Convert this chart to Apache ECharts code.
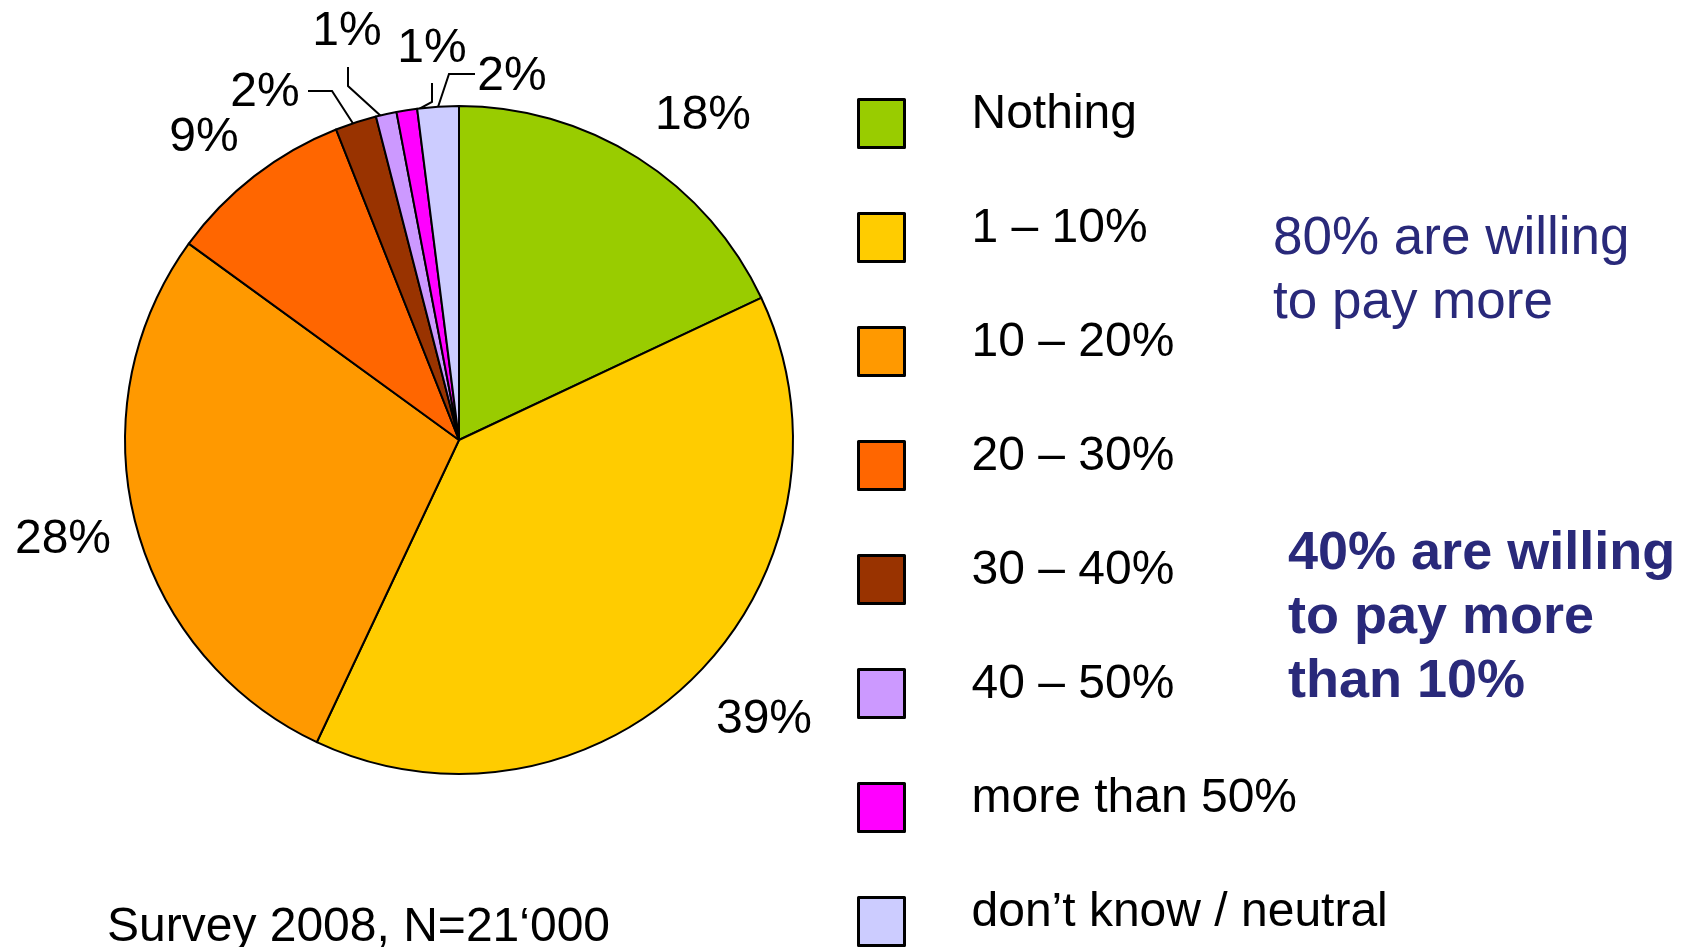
<!DOCTYPE html>
<html>
<head>
<meta charset="utf-8">
<script src="https://cdn.jsdelivr.net/npm/echarts@6/dist/echarts.min.js"></script>
<style>
  html, body { margin: 0; padding: 0; background: #fff; }
  #chart { width: 1681px; height: 947px; }
</style>
</head>
<body>
<div id="chart"></div>
<script>
// answers (share of respondents, %)
const categories = ['Nothing', '1 – 10%', '10 – 20%', '20 – 30%', '30 – 40%', '40 – 50%', 'more than 50%', 'don’t know / neutral'];
const shares = [18, 39, 28, 9, 2, 1, 1, 2];
const colors = ['#99CC00', '#FFCC00', '#FF9900', '#FF6600', '#993300', '#CC99FF', '#FF00FF', '#CCCCFF'];
const noteLight = '80% are willing\nto pay more';
const noteBold = '40% are willing\nto pay more\nthan 10%';
const footnote = 'Survey 2008, N=21‘000';

// where each percentage label sits (label centre) and its leader line, if any
const labelPos = [[703, 116], [764, 720], [63, 540], [204, 138], [265, 93], [347, 32], [432, 49], [512, 77]];
const leaders = {
    4: [[354, 125], [332, 91], [308, 91]],
    5: [[382, 117], [348, 86], [348, 67]],
    6: [[408, 115], [432, 102], [432, 83]],
    7: [[437, 110], [449, 74], [475, 74]]
};

const FONT = '"Liberation Sans", Arial, sans-serif';
const NAVY = '#29297a';
// legend box sits in the lower part of a taller item so the text rides above its centre
const legendIcon = 'path://M0 0L0 0M0 18L46 18L46 66L0 66Z';

const chart = echarts.init(document.getElementById('chart'), null, { renderer: 'canvas' });

chart.setOption({
    animation: false,
    backgroundColor: '#fff',
    color: colors,
    legend: {
        orient: 'vertical',
        left: 852,
        top: 75,
        height: 900,
        icon: legendIcon,
        itemWidth: 46,
        itemHeight: 66,
        itemGap: 45,
        selectedMode: false,
        itemStyle: { borderColor: '#000', borderWidth: 3 },
        textStyle: {
            fontFamily: FONT, fontSize: 48, color: '#000',
            padding: [0, 0, 0, 62]
        },
        data: categories
    },
    series: [{
        type: 'pie',
        center: [459, 440],
        radius: 334,
        startAngle: 90,
        clockwise: true,
        avoidLabelOverlap: false,
        itemStyle: { borderColor: '#000', borderWidth: 2 },
        label: {
            show: true,
            formatter: '{c}%',
            fontFamily: FONT, fontSize: 48, color: '#000'
        },
        labelLine: { show: false, smooth: false, lineStyle: { color: '#000', width: 2 } },
        emphasis: { disabled: true },
        labelLayout: (params) => {
            const i = params.dataIndex;
            const out = { x: labelPos[i][0], y: labelPos[i][1], align: 'center', verticalAlign: 'middle' };
            if (leaders[i]) out.labelLinePoints = leaders[i];
            return out;
        },
        data: categories.map((name, i) => ({
            name: name,
            value: shares[i],
            labelLine: { show: !!leaders[i] }
        }))
    }],
    graphic: [
        {
            type: 'text', left: 1273, top: 207,
            style: { text: noteLight, font: '53px ' + FONT, fill: NAVY, lineHeight: 64 }
        },
        {
            type: 'text', left: 1288, top: 522,
            style: { text: noteBold, font: 'bold 54px ' + FONT, fill: NAVY, lineHeight: 64 }
        },
        {
            type: 'text', left: 107, top: 898,
            style: { text: footnote, font: '48px ' + FONT, fill: '#000', lineHeight: 60 }
        }
    ]
});
</script>
</body>
</html>
